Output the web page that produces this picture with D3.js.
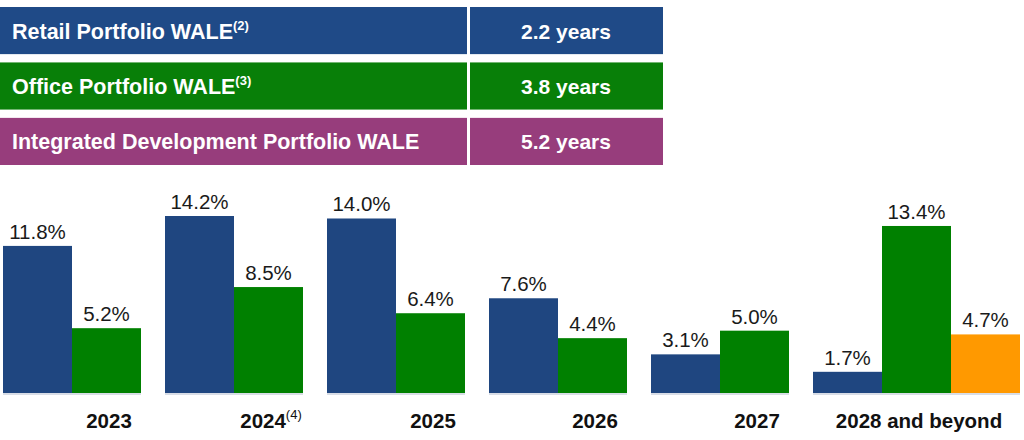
<!DOCTYPE html>
<html><head><meta charset="utf-8">
<script src="https://cdn.jsdelivr.net/npm/d3@7"></script>
<style>
body{margin:0;background:#fff;}
svg{display:block;font-family:"Liberation Sans",Arial,sans-serif;}
</style></head>
<body><svg id="c" width="1024" height="440"></svg>
<script>
// Summary table
const tableLabels = ["Retail Portfolio WALE", "Office Portfolio WALE", "Integrated Development Portfolio WALE"];
const tableNotes = ["(2)", "(3)", ""];
const tableValues = ["2.2 years", "3.8 years", "5.2 years"];
const tableColors = ["#1f4a87", "#087f08", "#973d7c"];

// Bar chart
const categories = ["2023", "2024", "2025", "2026", "2027", "2028 and beyond"];
const categoryNotes = ["", "(4)", "", "", "", ""];
const retail = [11.8, 14.2, 14.0, 7.6, 3.1, 1.7];
const office = [5.2, 8.5, 6.4, 4.4, 5.0, 13.4];
const integrated = [null, null, null, null, null, 4.7];
const seriesColors = ["#1f4680", "#008000", "#ff9900"];

const svg = d3.select("#c");

// ---- table ----
const rowY = d3.scaleBand().domain(d3.range(3)).range([7, 165]).paddingInner(0.15);
const rows = svg.selectAll("g.row").data(tableLabels).join("g").attr("class","row")
  .attr("transform", (d,i)=>`translate(0,${rowY(i)})`);
rows.append("rect").attr("x",0).attr("width",467).attr("height",rowY.bandwidth())
  .attr("fill",(d,i)=>tableColors[i]);
rows.append("rect").attr("x",470).attr("width",193).attr("height",rowY.bandwidth())
  .attr("fill",(d,i)=>tableColors[i]);
const lt = rows.append("text").attr("x",12).attr("y",rowY.bandwidth()/2+8)
  .attr("fill","#fff").attr("font-weight","bold").attr("font-size",21.5);
lt.append("tspan").text(d=>d);
lt.append("tspan").attr("font-size",13).attr("dy",-9).text((d,i)=>tableNotes[i]);
rows.append("text").attr("x",566).attr("y",rowY.bandwidth()/2+8).attr("text-anchor","middle")
  .attr("fill","#fff").attr("font-weight","bold").attr("font-size",21).text((d,i)=>tableValues[i]);

// ---- bars ----
const baseY = 393;
const y = d3.scaleLinear().domain([0, 14.2]).range([baseY, baseY - 177]);
const x = d3.scaleBand().domain(categories).range([3, 3 + 162*6]).paddingInner(0);
const barW = 69;

const data = categories.map((c,i)=>({
  cat:c, note:categoryNotes[i],
  vals:[retail[i], office[i], integrated[i]].map((v,k)=>({v,k})).filter(o=>o.v!=null)
}));

const groups = svg.selectAll("g.grp").data(data).join("g").attr("class","grp")
  .attr("transform", d=>`translate(${x(d.cat)},0)`);

groups.append("line").attr("x1",0).attr("x2",d=>d.vals.length*barW)
  .attr("y1",baseY+1).attr("y2",baseY+1).attr("stroke","#d8dde6").attr("stroke-width",2);

groups.selectAll("rect").data(d=>d.vals).join("rect")
  .attr("x",(d,j)=>j*barW).attr("width",barW)
  .attr("y",d=>y(d.v)).attr("height",d=>baseY-y(d.v))
  .attr("fill",d=>seriesColors[d.k]);

groups.selectAll("text.val").data(d=>d.vals).join("text").attr("class","val")
  .attr("x",(d,j)=>j*barW+barW/2).attr("y",d=>y(d.v)-7)
  .attr("text-anchor","middle").attr("font-size",20.5).attr("fill","#1a1a1a")
  .text(d=>d.v.toFixed(1)+"%");

const cl = groups.append("text").attr("x",d=>d.vals.length===3?106:106).attr("y",428)
  .attr("text-anchor","middle").attr("font-size",20.5).attr("font-weight","bold").attr("fill","#111");
cl.append("tspan").text(d=>d.cat);
cl.append("tspan").attr("font-size",13).attr("font-weight","normal").attr("dy",-9).text(d=>d.note);
</script></body></html>
